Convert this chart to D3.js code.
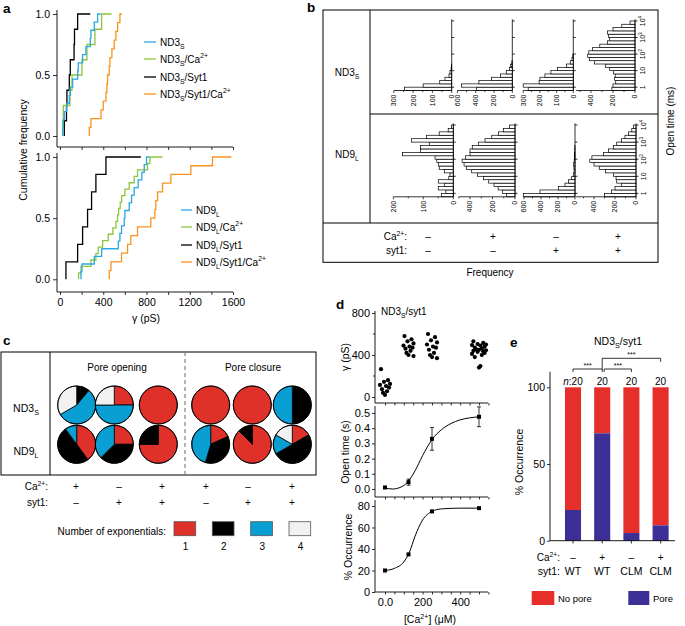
<!DOCTYPE html>
<html><head><meta charset="utf-8">
<script src="https://cdn.jsdelivr.net/npm/d3@7"></script>
<style>body{margin:0;background:#fff} svg{font-family:"Liberation Sans",Arial,sans-serif}</style>
</head><body><svg id="c" width="685" height="626"></svg>
<script>
// ---------------- DATA ----------------
// Panel a: sorted conductances (pS) for ECDFs, plus end of final horizontal segment
const aTicks = [0,200,400,600,800,1000,1200,1400,1600];
const aTickLabels = [0,400,800,1200,1600];
const aYTicks = [0,0.5,1];
const nd3s       = [25,31,40,62,86,95,117,163,169,209,240,280,286,317,348];
const nd3sCa     = [25,31,92,111,203,249,323,385];
const nd3sSyt    = [40,60,64,86,95,130,134,163];
const nd3sSytCa  = [271,286,379,400,425,434,440,455,462,480,501,517,533,554];
const nd3sEnds   = [378,477,280,572];
const nd9l       = [194,203,317,385,539,554,569,594,600,640,662,686,723,757,779,800];
const nd9lCa     = [172,194,286,332,354,394,446,489,517,533,542,557,570,600,640,686,717,810,831];
const nd9lSyt    = [55,163,209,255,292,332,425];
const nd9lSytCa  = [455,471,569,625,655,717,840,877,886,902,948,1025,1210,1410];
const nd9lEnds   = [825,948,748,1585];
const seriesColors = ["#29A9E0","#8CC63E","#000000","#F7931E"];

// Panel b: open-time histograms, log10 bin edges (ms) and counts per bin
const binEdgesLog = [-0.2,0,0.2,0.4,0.6,0.8,1.0,1.2,1.4,1.6,1.8,2.0,2.2,2.4,2.6,2.8,3.0,3.2,3.4,3.6,3.8,4.0];
const openTicks = [1,10,100,1000,10000];
const histND3S = [
  [244,148,62,35,14,9,3,1,0,0,0,0,0,0,0,0,0,0,0,0,0],
  [390,555,365,226,128,66,30,18,5,0,0,0,0,0,0,0,0,0,0,0,0],
  [270,300,205,200,170,134,95,40,18,8,3,0,0,0,0,0,0,0,0,0,0],
  [210,200,175,185,180,195,230,270,370,415,430,420,385,320,250,230,240,250,200,120,45]
];
const histND9L = [
  [39,25,50,30,50,15,11,30,47,50,55,61,169,109,109,80,139,89,47,17,6],
  [74,110,150,187,234,281,335,385,430,453,470,440,400,400,380,326,267,207,148,104,50],
  [608,412,196,118,78,39,20,10,12,15,10,8,5,3,2,0,0,0,0,0,0],
  [300,232,200,140,184,190,216,290,350,400,440,420,310,263,216,184,137,105,73,40,25]
];
const freqTicksND3S = [[0,100,200,300],[0,200,400,600],[0,100,200,300],[0,200,400]];
const freqTicksND9L = [[0,100,200],[0,200,400],[0,200,400,600],[0,200,400]];
const bCa   = ["–","+","–","+"];
const bSyt  = ["–","–","+","+"];

// Panel c: number of patches fitted with 1,2,3,4 exponentials
const pieND3S = [[0,1,5,3],[1,0,2,1],[1,0,0,0],[1,0,0,0],[1,0,0,0],[0,1,1,0]];
const pieND9L = [[4,5,1,0],[2,3,3,0],[3,1,0,0],[2,4,5,0],[7,1,0,0],[1,3,1,1]];
const cCa  = ["+","–","+","+","–","+"];
const cSyt = ["–","+","+","–","+","+"];
const expLabels = ["1","2","3","4"];
const expColors = ["#E0302A","#000000","#0A9FD2","#F1F1F1"];

// Panel d
const caConc = [0,125,250,500];
const gammaGroups = [
  [265,160,145,125,115,105,90,75,55,40,20],
  [580,550,530,510,490,480,470,460,440,420,400,390],
  [600,570,540,520,500,480,470,450,420,400,380,370],
  [530,515,505,500,495,490,480,470,462,455,450,445,440,435,430,420,410,400,380,295,280]
];
const openMean = [0.01,0.045,0.33,0.475];
const openErr  = [0.005,0.02,0.075,0.065];
const openFit  = [[0,0.006],[40,0.0],[80,0.01],[120,0.045],[160,0.12],[200,0.22],[250,0.325],[300,0.39],[350,0.43],[400,0.455],[450,0.468],[500,0.475]];
const occMean  = [20,35,75,78];
const occFit   = [[0,20],[50,22],[100,28],[130,37],[160,52],[200,67],[250,75],[300,77.3],[400,78],[500,78]];
const dXTicks  = [0,50,100,150,200,250,300,350,400,450,500,550];
const dXLabels = [0,200,400];

// Panel e
const eCats  = ["WT-","WT+","CLM-","CLM+"];
const ePore  = [20,70,5,10];
const eN     = [20,20,20,20];
const eCa    = ["–","+","–","+"];
const eSyt   = ["WT","WT","CLM","CLM"];
const eTicks = [0,50,100];

// ---------------- HELPERS ----------------
const FONT = '"Liberation Sans",Arial,sans-serif';
const svg = d3.select("#c");
function rich(g, x, y, parts, o={}) {
  const fs = o.size || 10;
  const t = g.append("text").attr("x",x).attr("y",y).attr("font-size",fs)
    .attr("text-anchor",o.anchor||"start").attr("fill",o.fill||"#000");
  if (o.transform) t.attr("transform",o.transform);
  if (o.weight) t.attr("font-weight",o.weight);
  let shift = 0;
  parts.forEach(p => {
    const [str, mode] = Array.isArray(p) ? p : [p,null];
    const ts = t.append("tspan").text(str);
    const target = mode==="sub" ? fs*0.32 : mode==="sup" ? -fs*0.42 : 0;
    if (target !== shift) ts.attr("dy", target-shift);
    shift = target;
    if (mode==="sub"||mode==="sup") ts.attr("font-size", fs*0.68);
    if (mode==="it") ts.attr("font-style","italic");
  });
  return t;
}
function line(g,x1,y1,x2,y2,w=0.9,c="#000",dash=null){
  const l = g.append("line").attr("x1",x1).attr("y1",y1).attr("x2",x2).attr("y2",y2)
    .attr("stroke",c).attr("stroke-width",w);
  if (dash) l.attr("stroke-dasharray",dash);
  return l;
}
function styleAxis(g, fs){
  g.attr("font-family",FONT).attr("font-size",fs);
  g.select(".domain").remove();
  g.selectAll("line").attr("stroke","#000").attr("stroke-width",0.8);
  g.selectAll("text").attr("fill","#000");
}
function label(txt,x,y){ svg.append("text").attr("x",x).attr("y",y).attr("font-size",13.5).attr("font-weight","bold").text(txt); }

// ---------------- PANEL A ----------------
label("a",3,13);
const gA = svg.append("g");
const xA = d3.scaleLinear().domain([0,1600]).range([60,233]);
const yA1 = d3.scaleLinear().domain([0,1]).range([136,14]);
const yA2 = d3.scaleLinear().domain([0,1]).range([279.3,157]);
function ecdf(vals,end,y){
  const n = vals.length, pts=[[vals[0],0]];
  vals.forEach((v,i)=>{pts.push([v,i/n]);pts.push([v,(i+1)/n]);});
  pts.push([end,1]);
  return d3.line().x(d=>xA(d[0])).y(d=>y(d[1]))(pts);
}
[[yA1,10,147,[nd3s,nd3sCa,nd3sSyt,nd3sSytCa],nd3sEnds,false],[yA2,153,292,[nd9l,nd9lCa,nd9lSyt,nd9lSytCa],nd9lEnds,true]].forEach(([ys,top,bot,ser,ends,lab])=>{
  line(gA,57,top,57,bot,0.9);
  line(gA,57,bot,233,bot,0.9);
  const ya = gA.append("g").attr("transform","translate(57,0)")
    .call(d3.axisLeft(ys).tickValues(aYTicks).tickFormat(d3.format(".1f")).tickSize(4).tickPadding(3));
  styleAxis(ya,10.5);
  const xa = gA.append("g").attr("transform",`translate(0,${bot})`)
    .call(d3.axisBottom(xA).tickValues(aTicks).tickFormat(d=> lab && aTickLabels.includes(d) ? d : "").tickSize(3).tickPadding(4));
  styleAxis(xa,10.5);
  [3,2,1,0].forEach(i=>{
    gA.append("path").attr("d",ecdf(ser[i],ends[i],ys)).attr("fill","none")
      .attr("stroke",seriesColors[i]).attr("stroke-width",1.3);
  });
});
rich(gA,0,0,["Cumulative frequency"],{size:10.5,anchor:"middle",transform:"translate(27,150) rotate(-90)"});
rich(gA,146,322,["γ (pS)"],{size:10.5,anchor:"middle"});
const legA1 = [[["ND3"],["S","sub"]],[["ND3"],["S","sub"],"/Ca",["2+","sup"]],[["ND3"],["S","sub"],"/Syt1"],[["ND3"],["S","sub"],"/Syt1/Ca",["2+","sup"]]];
const legA2 = [[["ND9"],["L","sub"]],[["ND9"],["L","sub"],"/Ca",["2+","sup"]],[["ND9"],["L","sub"],"/Syt1"],[["ND9"],["L","sub"],"/Syt1/Ca",["2+","sup"]]];
[42,59,77,94].forEach((y,i)=>{
  line(gA,144,y,156,y,1.3,seriesColors[i]);
  rich(gA,160,y+3.5,legA1[i],{size:10});
});
[210,227,245,262].forEach((y,i)=>{
  line(gA,181,y,192,y,1.3,seriesColors[i]);
  rich(gA,196,y+3.5,legA2[i],{size:10});
});

// ---------------- PANEL B ----------------
label("b",307,12);
const gB = svg.append("g");
gB.append("rect").attr("x",323).attr("y",10).attr("width",335).attr("height",252.3).attr("fill","none").attr("stroke","#000").attr("stroke-width",1);
line(gB,370,10,370,223,1);
line(gB,370,114,658,114,1);
line(gB,323,223,658,223,1);
rich(gB,347,76,["ND3",["S","sub"]],{size:10,anchor:"middle"});
rich(gB,347,158,["ND9",["L","sub"]],{size:10,anchor:"middle"});
const bRows = [
  {data:histND3S, ticks:freqTicksND3S, y:[90.5,19.3], x0:[451.7,512.3,573.3,635], ppu:[0.193,0.0915,0.167,0.11], max:[300,600,300,535]},
  {data:histND9L, ticks:freqTicksND9L, y:[196.8,123.3], x0:[453.3,515,575,636], ppu:[0.3,0.1125,0.085,0.105], max:[200,500,600,570]}
];
bRows.forEach(r=>{
  const ys = d3.scaleLog().domain([Math.pow(10,-0.2),Math.pow(10,4.1)]).range(r.y);
  const bottom = r.y[0];
  r.data.forEach((counts,ci)=>{
    const x0 = r.x0[ci];
    const xs = d3.scaleLinear().domain([0,r.max[ci]]).range([x0, x0 - r.max[ci]*r.ppu[ci]]);
    const g = gB.append("g");
    counts.forEach((c,k)=>{
      if (c<=0) return;
      const yTop = ys(Math.pow(10,binEdgesLog[k+1])), yBot = ys(Math.pow(10,binEdgesLog[k]));
      g.append("rect").attr("x",xs(c)).attr("y",yTop).attr("width",x0-xs(c)).attr("height",yBot-yTop)
        .attr("fill","#fff").attr("stroke","#000").attr("stroke-width",0.7);
    });
    line(g,x0,r.y[1],x0,bottom,0.8);
    openTicks.forEach(t=>line(g,x0,ys(t),x0+2.5,ys(t),0.8));
    line(g,xs(r.max[ci]),bottom,x0,bottom,0.8);
    const tk = r.ticks[ci];
    const step = tk[1]/2;
    d3.range(0,r.max[ci]+0.1,step).forEach(v=>line(g,xs(v),bottom,xs(v),bottom+(tk.includes(v)?2.5:1.6),0.7));
    tk.forEach(v=>{
      g.append("text").attr("transform",`translate(${xs(v)},${bottom+4}) rotate(-90)`)
        .attr("text-anchor","end").attr("dy","0.35em").attr("font-size",7).text(v);
    });
    if (ci===3){
      const tl = [["1"],["10"],["10",["2","sup"]],["10",["3","sup"]],["10",["4","sup"]]];
      openTicks.forEach((t,i)=>rich(g,0,0,tl[i],{size:7,anchor:"middle",transform:`translate(${x0+10},${ys(t)}) rotate(-90)`}));
    }
  });
});
rich(gB,0,0,["Open time (ms)"],{size:10,anchor:"middle",transform:"translate(674,121) rotate(-90)"});
rich(gB,407,240,["Ca",["2+","sup"],":"],{size:10,anchor:"end"});
rich(gB,407,254,["syt1:"],{size:10,anchor:"end"});
[428,493,556,618].forEach((x,i)=>{
  rich(gB,x,240,[bCa[i]],{size:10,anchor:"middle"});
  rich(gB,x,254,[bSyt[i]],{size:10,anchor:"middle"});
});
rich(gB,490,276,["Frequency"],{size:10,anchor:"middle"});

// ---------------- PANEL C ----------------
label("c",3,345);
const gC = svg.append("g");
gC.append("rect").attr("x",1).attr("y",352).attr("width",315).attr("height",123).attr("fill","none").attr("stroke","#000").attr("stroke-width",1);
line(gC,50,352,50,475,1);
line(gC,185,352,185,475,1.1,"#777","4,3");
rich(gC,117,371,["Pore opening"],{size:10,anchor:"middle"});
rich(gC,253,371,["Pore closure"],{size:10,anchor:"middle"});
rich(gC,26,412,["ND3",["S","sub"]],{size:10.5,anchor:"middle"});
rich(gC,26,455,["ND9",["L","sub"]],{size:10.5,anchor:"middle"});
const pieX = [76.7,114.3,158.3,210.7,252.3,292.3];
const pieGen = d3.pie().sort(null).value(d=>d);
const arcGen = d3.arc().innerRadius(0).outerRadius(19);
[[pieND3S,405],[pieND9L,444.3]].forEach(([rows,cy])=>{
  rows.forEach((counts,i)=>{
    const g = gC.append("g").attr("transform",`translate(${pieX[i]},${cy})`);
    g.selectAll("path").data(pieGen(counts).filter(d=>d.value>0)).join("path")
      .attr("d",arcGen).attr("fill",d=>expColors[d.index]).attr("stroke","#000").attr("stroke-width",0.8);
    g.append("circle").attr("r",19).attr("fill","none").attr("stroke","#000").attr("stroke-width",0.9);
  });
});
rich(gC,48,490,["Ca",["2+","sup"],":"],{size:10,anchor:"end"});
rich(gC,48,506,["syt1:"],{size:10,anchor:"end"});
[76,119,162,206,248,292].forEach((x,i)=>{
  rich(gC,x,490,[cCa[i]],{size:10,anchor:"middle"});
  rich(gC,x,506,[cSyt[i]],{size:10,anchor:"middle"});
});
rich(gC,166,535,["Number of exponentials:"],{size:10,anchor:"end"});
[174,212.3,250.7,289].forEach((x,i)=>{
  gC.append("rect").attr("x",x).attr("y",521.7).attr("width",21.7).attr("height",14)
    .attr("fill",expColors[i]).attr("stroke","#555").attr("stroke-width",0.8);
  rich(gC,x+11.5,549.5,[expLabels[i]],{size:10,anchor:"middle"});
});

// ---------------- PANEL D ----------------
label("d",336,309);
const gD = svg.append("g");
const xD = d3.scaleLinear().domain([0,500]).range([385,479]);
const yG = d3.scaleLinear().domain([0,800]).range([397,313]);
const yT = d3.scaleLinear().domain([0,0.5]).range([489,413]);
const yO = d3.scaleLinear().domain([0,80]).range([592,506]);
rich(gD,381,315,["ND3",["S","sub"],"/syt1"],{size:10});
// top
line(gD,375,311,375,403,0.9); line(gD,375,403,488,403,0.9);
let ax = gD.append("g").attr("transform","translate(375,0)").call(d3.axisLeft(yG).tickValues([0,400,800]).tickSize(3).tickPadding(2));
styleAxis(ax,11);
[200,600].forEach(v=>line(gD,375,yG(v),373,yG(v),0.8));
function xTicks(y,withLabels){
  const a = gD.append("g").attr("transform",`translate(0,${y})`)
    .call(d3.axisBottom(xD).tickValues(dXTicks).tickSize(2.5).tickPadding(4).tickFormat(d=> withLabels && dXLabels.includes(d) ? (d===0?"0.0":d) : ""));
  styleAxis(a,11);
}
xTicks(403,false);
const jit = [-4,3,-1,5,-5,1,4,-3,2,-2,0,5,-4,3,-1,4,-5,2,-3,1,0];
const jitScale = [1,1,1,1.4];
gammaGroups.forEach((vals,gi)=>{
  vals.forEach((v,i)=>{
    gD.append("circle").attr("cx",xD(caConc[gi])+jit[i%jit.length]*jitScale[gi]).attr("cy",yG(v)).attr("r",2.1).attr("fill","#000");
  });
});
rich(gD,0,0,["γ (pS)"],{size:10.5,anchor:"middle",transform:"translate(349,357) rotate(-90)"});
// middle
line(gD,375,406,375,497,0.9); line(gD,375,497,488,497,0.9);
ax = gD.append("g").attr("transform","translate(375,0)").call(d3.axisLeft(yT).tickValues([0,0.1,0.2,0.3,0.4,0.5]).tickFormat(d3.format(".1f")).tickSize(3).tickPadding(2));
styleAxis(ax,11);
xTicks(497,false);
gD.append("path").attr("d",d3.line().curve(d3.curveMonotoneX).x(d=>xD(d[0])).y(d=>yT(d[1]))(openFit)).attr("fill","none").attr("stroke","#000").attr("stroke-width",1);
caConc.forEach((c,i)=>{
  const x=xD(c);
  line(gD,x,yT(openMean[i]-openErr[i]),x,yT(openMean[i]+openErr[i]),0.8);
  line(gD,x-2,yT(openMean[i]-openErr[i]),x+2,yT(openMean[i]-openErr[i]),0.8);
  line(gD,x-2,yT(openMean[i]+openErr[i]),x+2,yT(openMean[i]+openErr[i]),0.8);
  gD.append("rect").attr("x",x-2).attr("y",yT(openMean[i])-2).attr("width",4).attr("height",4).attr("fill","#000");
});
rich(gD,0,0,["Open time (s)"],{size:10.5,anchor:"middle",transform:"translate(349,452) rotate(-90)"});
// bottom
line(gD,375,500,375,592,0.9); line(gD,375,592,488,592,0.9);
ax = gD.append("g").attr("transform","translate(375,0)").call(d3.axisLeft(yO).tickValues([0,20,40,60,80]).tickSize(3).tickPadding(2));
styleAxis(ax,11);
xTicks(592,true);
gD.append("path").attr("d",d3.line().curve(d3.curveMonotoneX).x(d=>xD(d[0])).y(d=>yO(d[1]))(occFit)).attr("fill","none").attr("stroke","#000").attr("stroke-width",1);
caConc.forEach((c,i)=>{
  gD.append("rect").attr("x",xD(c)-2).attr("y",yO(occMean[i])-2).attr("width",4).attr("height",4).attr("fill","#000");
});
rich(gD,0,0,["% Occurrence"],{size:10.5,anchor:"middle",transform:"translate(352,547) rotate(-90)"});
rich(gD,430,623,["[Ca",["2+","sup"],"] (μM)"],{size:10.5,anchor:"middle"});

// ---------------- PANEL E ----------------
label("e",510,347);
const gE = svg.append("g");
const xE = d3.scaleBand().domain(eCats).range([558.4,675.2]).paddingInner(0.45).paddingOuter(0.225);
const yE = d3.scaleLinear().domain([0,100]).range([540.7,387.3]);
rich(gE,618,345,["ND3",["S","sub"],"/syt1"],{size:10.5,anchor:"middle"});
eCats.forEach((c,i)=>{
  gE.append("rect").attr("x",xE(c)).attr("y",yE(100)).attr("width",xE.bandwidth()).attr("height",yE(ePore[i])-yE(100)).attr("fill","#E62E2B");
  gE.append("rect").attr("x",xE(c)).attr("y",yE(ePore[i])).attr("width",xE.bandwidth()).attr("height",yE(0)-yE(ePore[i])).attr("fill","#3C2F95");
  const cx = xE(c)+xE.bandwidth()/2;
  if (i===0) rich(gE,cx,385,[["n","it"],":"+eN[i]],{size:10,anchor:"middle"});
  else rich(gE,cx,385,[String(eN[i])],{size:10,anchor:"middle"});
  rich(gE,cx,561,[eCa[i]],{size:10,anchor:"middle"});
  rich(gE,cx,575,[eSyt[i]],{size:10.5,anchor:"middle"});
});
line(gE,550,371.7,550,540.7,0.9);
line(gE,550,540.7,675,540.7,0.9);
ax = gE.append("g").attr("transform","translate(550,0)").call(d3.axisLeft(yE).tickValues(eTicks).tickSize(3).tickPadding(2));
styleAxis(ax,10.5);
eCats.forEach(c=>{const cx=xE(c)+xE.bandwidth()/2; line(gE,cx,540.7,cx,543.5,0.8);});
const cxE = i => xE(eCats[i])+xE.bandwidth()/2;
function bracket(x1,x2,y,l1,l2){
  gE.append("path").attr("d",`M${x1},${y+l1}V${y}H${x2}V${y+l2}`).attr("fill","none").attr("stroke","#000").attr("stroke-width",0.8);
  gE.append("text").attr("x",(x1+x2)/2).attr("y",y-1).attr("text-anchor","middle").attr("font-size",7).text("***");
}
bracket(cxE(0),cxE(1),369,3,3);
bracket(cxE(1)+2,cxE(2),369,3,3);
bracket(cxE(1),cxE(3),358.3,11,3.5);
rich(gE,0,0,["% Occurrence"],{size:10.5,anchor:"middle",transform:"translate(523,462) rotate(-90)"});
rich(gE,560,561,["Ca",["2+","sup"],":"],{size:10,anchor:"end"});
rich(gE,560,575,["syt1:"],{size:10.5,anchor:"end"});
gE.append("rect").attr("x",531.7).attr("y",591).attr("width",22.6).attr("height",14).attr("fill","#E62E2B");
rich(gE,558,602,["No pore"],{size:9.5});
gE.append("rect").attr("x",628.3).attr("y",591).attr("width",21).attr("height",14).attr("fill","#3C2F95");
rich(gE,653,602,["Pore"],{size:9.5});
</script></body></html>
